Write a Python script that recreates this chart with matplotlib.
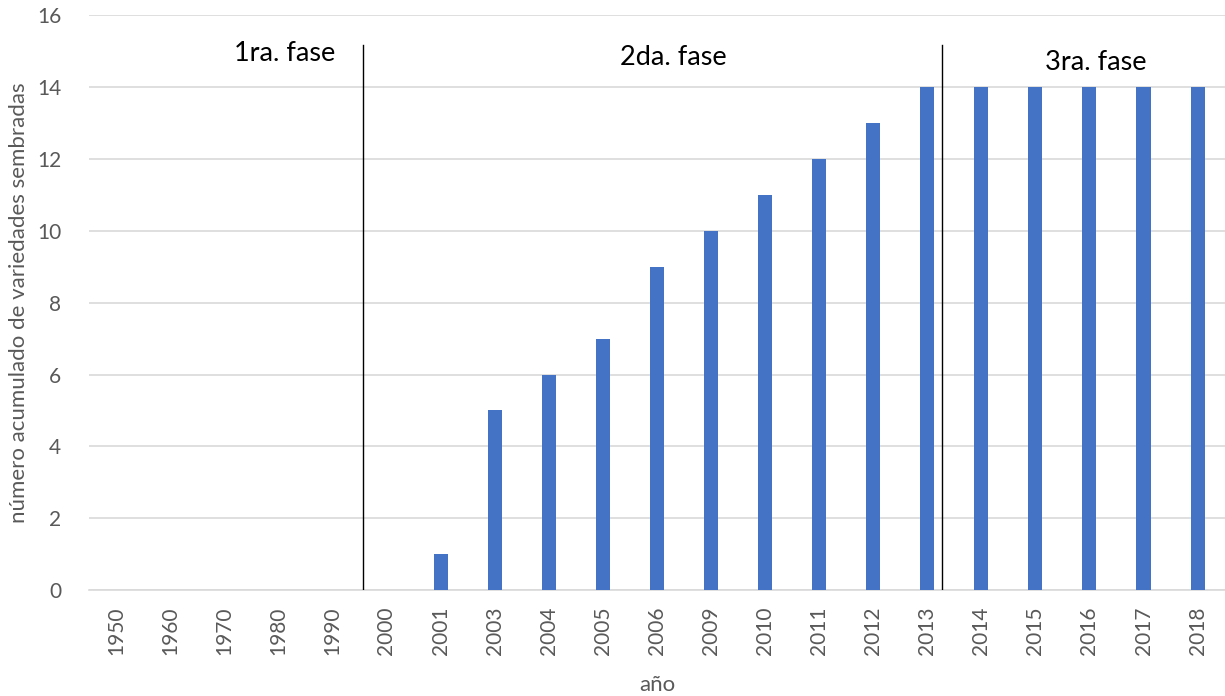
import matplotlib
matplotlib.use("Agg")
import matplotlib.pyplot as plt

plt.rcParams['font.family'] = ['Lato', 'DejaVu Sans']

years = ["1950", "1960", "1970", "1980", "1990", "2000", "2001", "2003", "2004",
         "2005", "2006", "2009", "2010", "2011", "2012", "2013", "2014", "2015",
         "2016", "2017", "2018"]
varieties = [0, 0, 0, 0, 0, 0, 1, 5, 6, 7, 9, 10, 11, 12, 13, 14, 14, 14, 14, 14, 14]
phase_labels = ["1ra. fase", "2da. fase", "3ra. fase"]

fig = plt.figure(figsize=(12.25, 6.96), dpi=100)
ax = fig.add_axes([0.0727, 0.152, 0.927, 0.8264])

x = range(len(years))
ax.bar(x, varieties, width=0.26, color="#4472C4", zorder=3)

ax.set_xlim(-0.5, len(years) - 0.5)
ax.set_ylim(0, 16)
ax.set_yticks(range(0, 17, 2))
ax.set_xticks(list(x))
ax.set_xticklabels(years, rotation=90)
ax.tick_params(axis='both', length=0, colors="#595959", labelsize=15)
ax.tick_params(axis='x', pad=12)
ax.tick_params(axis='y', pad=20)

ax.grid(axis='y', color="#D9D9D9", linewidth=1.2, zorder=0)
for side in ["top", "right", "left"]:
    ax.spines[side].set_visible(False)
ax.spines["bottom"].set_color("#D9D9D9")
ax.spines["bottom"].set_linewidth(1.2)

# phase dividers
for xv in (4.56, 15.27):
    ax.plot([xv, xv], [0, 15.17], color="black", linewidth=1, zorder=4)

ax.text(3.12, 14.94, phase_labels[0], ha="center", va="center", fontsize=19.5, color="black")
ax.text(10.30, 14.83, phase_labels[1], ha="center", va="center", fontsize=19.5, color="black")
ax.text(18.11, 14.69, phase_labels[2], ha="center", va="center", fontsize=19.5, color="black")

ax.set_ylabel("número acumulado de variedades sembradas", fontsize=16, color="#595959", labelpad=6)
ax.set_xlabel("año", fontsize=16, color="#595959", labelpad=14)

fig.savefig("out.png", dpi=100)
